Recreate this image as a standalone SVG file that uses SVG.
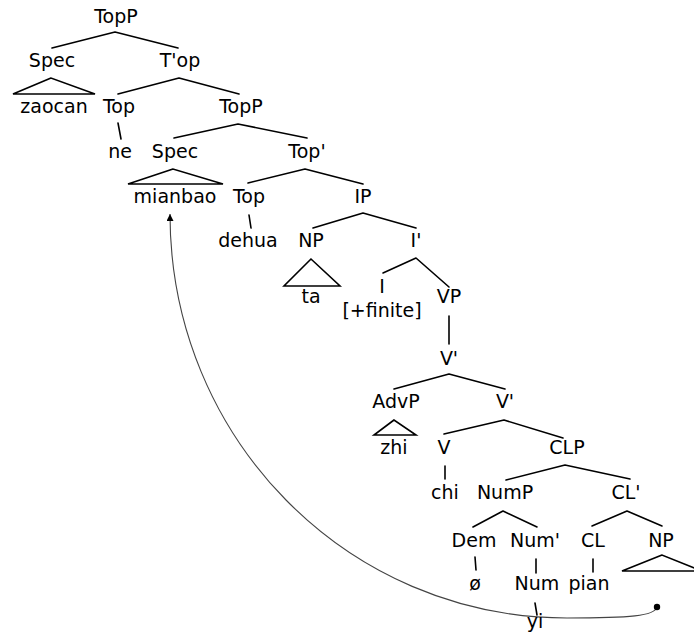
<svg xmlns="http://www.w3.org/2000/svg" width="694" height="644" viewBox="0 0 694 644">
<defs>
<style>
text{font-family:"DejaVu Sans","Liberation Sans",sans-serif;font-size:19px;fill:#000;text-anchor:middle}
.e{stroke:#000;stroke-width:1.6;fill:none;stroke-linecap:round}
.tri{stroke:#000;stroke-width:1.6;fill:none;stroke-linejoin:miter}
.mv{stroke:#444;stroke-width:1.1;fill:none}
</style>
<marker id="ah" viewBox="0 0 10 10" refX="10" refY="5" markerWidth="7" markerHeight="7" markerUnits="userSpaceOnUse" orient="auto">
<path d="M0,0 L10,5 L0,10 z" fill="#000"/>
</marker>
</defs>
<rect width="694" height="644" fill="#fff"/>
<g id="connectors">
<path class="e" d="M115,32 L52,48 M115,32 L178,48"/>
<path class="e" d="M179,78 L118,94 M179,78 L239,94"/>
<path class="e" d="M118,123 L121,139"/>
<path class="e" d="M238,124 L174,138 M238,124 L307,138"/>
<path class="e" d="M305,169 L248,183 M305,169 L363,184"/>
<path class="e" d="M249,215 L251,228"/>
<path class="e" d="M363,213 L313,228 M363,213 L416,228"/>
<path class="e" d="M416,258 L383,273 M416,258 L449,287"/>
<path class="e" d="M449,316 L449,344"/>
<path class="e" d="M449,374 L394,389 M449,374 L505,389"/>
<path class="e" d="M504,420 L444,434 M504,420 L563,438"/>
<path class="e" d="M445,466 L445,479"/>
<path class="e" d="M565,465 L506,480 M565,465 L630,479"/>
<path class="e" d="M503,511 L473,527 M503,511 L537,527"/>
<path class="e" d="M627,511 L592,526 M627,511 L662,526"/>
<path class="e" d="M475,557 L476,570"/>
<path class="e" d="M536,559 L536,573"/>
<path class="e" d="M593,559 L593,572"/>
<path class="e" d="M535,603 L537,615"/>
<path class="mv" d="M657,607 C655,616 630,618 567,618 C347,618 170,438 170,214" marker-end="url(#ah)"/>
<circle cx="657" cy="607" r="3.2" fill="#000"/>
</g>
<g id="n-topp1"><text x="116" y="23">TopP</text></g>
<g id="n-spec1"><text x="52" y="67">Spec</text></g>
<g id="n-tbarop"><text x="180" y="67">T'op</text></g>
<g id="n-zaocan"><path class="tri" d="M51,78 L13,94 L95,94 Z"/><text x="54" y="113">zaocan</text></g>
<g id="n-top1"><text x="119" y="113">Top</text></g>
<g id="n-ne"><text x="120" y="158">ne</text></g>
<g id="n-topp2"><text x="241" y="113">TopP</text></g>
<g id="n-spec2"><text x="175" y="158">Spec</text></g>
<g id="n-topbar"><text x="307" y="158">Top'</text></g>
<g id="n-mianbao"><path class="tri" d="M173,169 L128,184 L223,184 Z"/><text x="175" y="203">mianbao</text></g>
<g id="n-top2"><text x="249" y="203">Top</text></g>
<g id="n-dehua"><text x="248" y="247">dehua</text></g>
<g id="n-ip"><text x="363" y="203">IP</text></g>
<g id="n-np1"><text x="311" y="247">NP</text></g>
<g id="n-ta"><path class="tri" d="M311,259 L284,286 L340,286 Z"/><text x="311" y="303">ta</text></g>
<g id="n-ibar"><text x="416" y="247">I'</text></g>
<g id="n-i"><text x="382" y="293">I</text><text x="382" y="317">[+finite]</text></g>
<g id="n-vp"><text x="449" y="303">VP</text></g>
<g id="n-vbar1"><text x="449" y="365">V'</text></g>
<g id="n-advp"><text x="396" y="408">AdvP</text></g>
<g id="n-zhi"><path class="tri" d="M394,420 L374,435 L416,435 Z"/><text x="394" y="454">zhi</text></g>
<g id="n-vbar2"><text x="505" y="408">V'</text></g>
<g id="n-v"><text x="444" y="454">V</text></g>
<g id="n-chi"><text x="445" y="499">chi</text></g>
<g id="n-clp"><text x="567" y="454">CLP</text></g>
<g id="n-nump"><text x="505" y="499">NumP</text></g>
<g id="n-clbar"><text x="626" y="499">CL'</text></g>
<g id="n-dem"><text x="474" y="547">Dem</text></g>
<g id="n-empty"><text x="475" y="590">ø</text></g>
<g id="n-numbar"><text x="535" y="547">Num'</text></g>
<g id="n-num"><text x="537" y="590">Num</text></g>
<g id="n-yi"><text x="535" y="628">yi</text></g>
<g id="n-cl"><text x="593" y="547">CL</text></g>
<g id="n-pian"><text x="589" y="590">pian</text></g>
<g id="n-np2"><text x="661" y="547">NP</text><path class="tri" d="M662,555 L622,571 L702,571 Z"/></g>
</svg>
